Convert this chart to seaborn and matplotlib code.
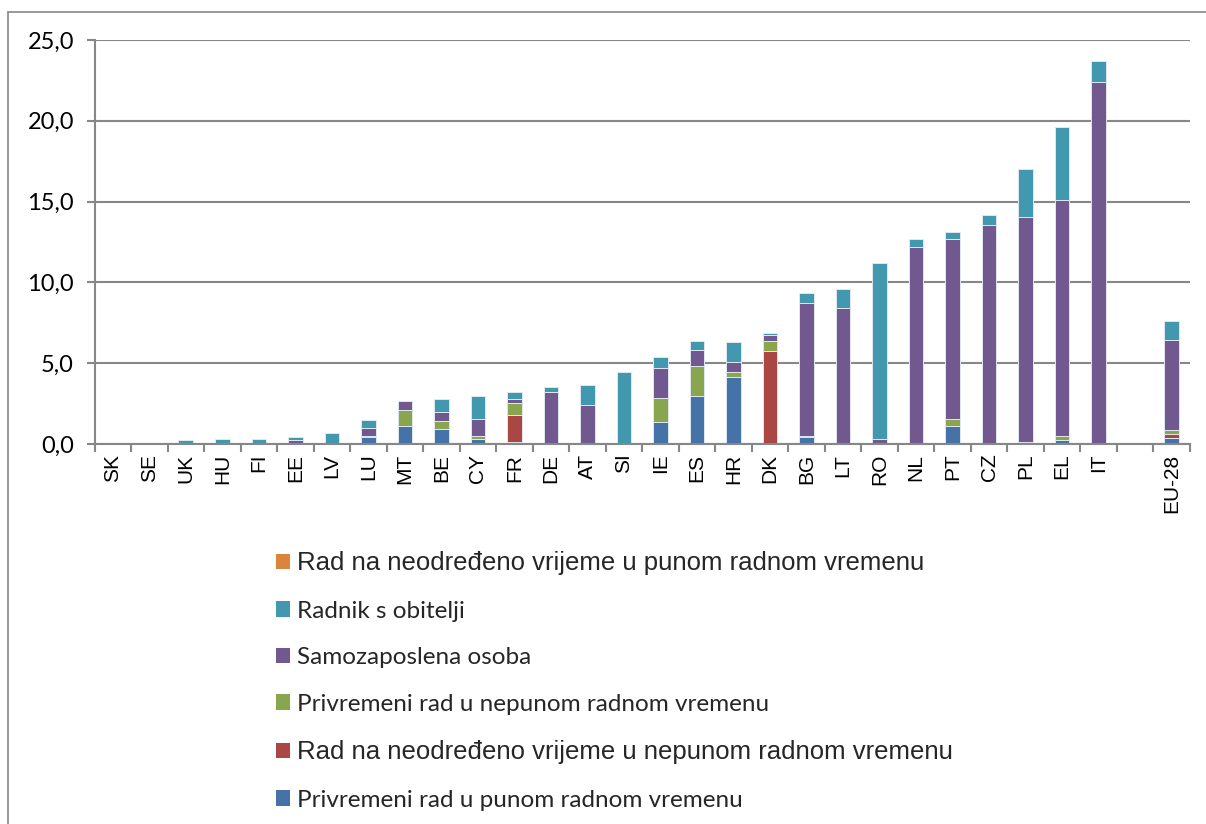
import matplotlib
matplotlib.use("Agg")
import matplotlib.pyplot as plt
from matplotlib.patches import Patch
from matplotlib.lines import Line2D
from matplotlib.ticker import FuncFormatter, FixedLocator
import seaborn as sns
import numpy as np
import pandas as pd

categories = ["SK", "SE", "UK", "HU", "FI", "EE", "LV", "LU", "MT", "BE", "CY", "FR",
              "DE", "AT", "SI", "IE", "ES", "HR", "DK", "BG", "LT", "RO", "NL", "PT",
              "CZ", "PL", "EL", "IT", " ", "EU-28"]

privremeni_puno = [0, 0, 0, 0, 0, 0, 0, 0.41, 1.11, 0.90, 0.30, 0.10, 0, 0, 0, 1.34, 2.97,
                   4.12, 0, 0.41, 0.08, 0, 0, 1.10, 0, 0.10, 0.27, 0, 0, 0.35]
neodredeno_nepuno = [0, 0, 0, 0, 0, 0, 0, 0, 0, 0, 0, 1.69, 0, 0, 0, 0, 0, 0, 5.73, 0, 0,
                     0, 0, 0, 0, 0, 0, 0, 0, 0.25]
privremeni_nepuno = [0, 0, 0, 0, 0, 0, 0, 0.06, 0.97, 0.50, 0.19, 0.72, 0, 0, 0, 1.53, 1.84,
                     0.35, 0.66, 0.10, 0, 0, 0, 0.46, 0, 0.04, 0.23, 0, 0, 0.29]
samozaposlena = [0, 0, 0, 0, 0, 0.27, 0, 0.50, 0.56, 0.58, 1.06, 0.25, 3.20, 2.39, 0, 1.81,
                 0.99, 0.60, 0.35, 8.22, 8.34, 0.33, 12.20, 11.10, 13.56, 13.90, 14.60,
                 22.40, 0, 5.55]
radnik_obitelj = [0.04, 0.08, 0.23, 0.30, 0.30, 0.19, 0.67, 0.50, 0, 0.83, 1.40, 0.45, 0.31,
                  1.28, 4.43, 0.68, 0.56, 1.24, 0.12, 0.60, 1.20, 10.85, 0.48, 0.48, 0.60,
                  2.98, 4.49, 1.30, 0, 1.20]
neodredeno_puno = [0] * len(categories)

series_names = ["Privremeni rad u punom radnom vremenu",
                "Rad na neodređeno vrijeme u nepunom radnom vremenu",
                "Privremeni rad u nepunom radnom vremenu",
                "Samozaposlena osoba",
                "Radnik s obitelji",
                "Rad na neodređeno vrijeme u punom radnom vremenu"]
series_values = [privremeni_puno, neodredeno_nepuno, privremeni_nepuno,
                 samozaposlena, radnik_obitelj, neodredeno_puno]
colors = ["#4572A7", "#AA4643", "#89A54E", "#71588F", "#4198AF", "#DB843D"]

sns.set_theme(style="white")
plt.rcParams["font.family"] = ["Liberation Sans", "DejaVu Sans"]

W, H = 1206, 824
fig = plt.figure(figsize=(W / 100, H / 100), dpi=100)
ax = fig.add_axes([94.5 / W, 1 - 444 / H, (1190 - 94.5) / W, (444 - 40) / H])

bottom = np.zeros(len(categories))
for name, vals, col in zip(series_names, series_values, colors):
    df = pd.DataFrame({"cat": categories, "val": vals})
    sns.barplot(data=df, x="cat", y="val", order=categories, color=col,
                width=0.4, bottom=bottom.copy(), ax=ax, errorbar=None,
                edgecolor="#dfe8ee", linewidth=0.7, saturation=1)
    bottom += np.array(vals)

ax.set_ylim(0, 25)
ax.set_xlim(-0.5, len(categories) - 0.5)
ax.set_xlabel("")
ax.set_ylabel("")
ax.set_yticks([0, 5, 10, 15, 20, 25])
ax.yaxis.set_major_formatter(FuncFormatter(lambda v, p: f"{v:.1f}".replace(".", ",")))
ax.yaxis.grid(True, color="#878787", linewidth=1.5)
ax.xaxis.grid(False)
ax.set_axisbelow(True)

for s in ["top", "right"]:
    ax.spines[s].set_visible(False)
for s in ["left", "bottom"]:
    ax.spines[s].set_color("#878787")
    ax.spines[s].set_linewidth(1.5)

ax.xaxis.set_minor_locator(FixedLocator(np.arange(-0.5, len(categories), 1.0)))
ax.tick_params(axis="x", which="major", length=0, pad=7)
ax.tick_params(axis="x", which="minor", length=5.8, width=1.5, color="#878787",
               direction="out", bottom=True)
ax.tick_params(axis="y", which="major", length=5.8, width=1.5, color="#878787",
               direction="out", left=True, pad=9)
for lab in ax.get_xticklabels():
    lab.set_rotation(90)
    lab.set_fontsize(15)
    lab.set_family(["Liberation Sans", "DejaVu Sans"])
    lab.set_color("black")
    lab.set_va("top")
for lab in ax.get_yticklabels():
    lab.set_fontsize(17)
    lab.set_family(["Lato", "DejaVu Sans"])
    lab.set_color("black")

# legend (reverse order)
handles = [Patch(facecolor=c, edgecolor="none") for c in colors[::-1]]
labels = series_names[::-1]
leg = fig.legend(handles, labels, loc="upper left",
                 bbox_to_anchor=(276 / W, 1 - 551 / H), frameon=False,
                 ncol=1, prop={"family": ["Lato", "DejaVu Sans"], "size": 17.5},
                 handlelength=0.58, handleheight=0.58, handletextpad=0.3,
                 labelspacing=1.05, borderpad=0, borderaxespad=0)
for txt in leg.get_texts():
    if txt.get_text().startswith("Rad na"):
        txt.set_family(["Liberation Sans", "DejaVu Sans"])
        txt.set_fontsize(18.5)
    else:
        txt.set_family(["Lato", "DejaVu Sans"])

# outer chart frame (left and top edges)
fig.add_artist(Line2D([8 / W, 8 / W], [0, 1 - 12 / H], transform=fig.transFigure,
                      color="#868686", linewidth=1.2))
fig.add_artist(Line2D([8 / W, 1], [1 - 12 / H, 1 - 12 / H], transform=fig.transFigure,
                      color="#868686", linewidth=1.2))

fig.savefig("out.png", dpi=100)
